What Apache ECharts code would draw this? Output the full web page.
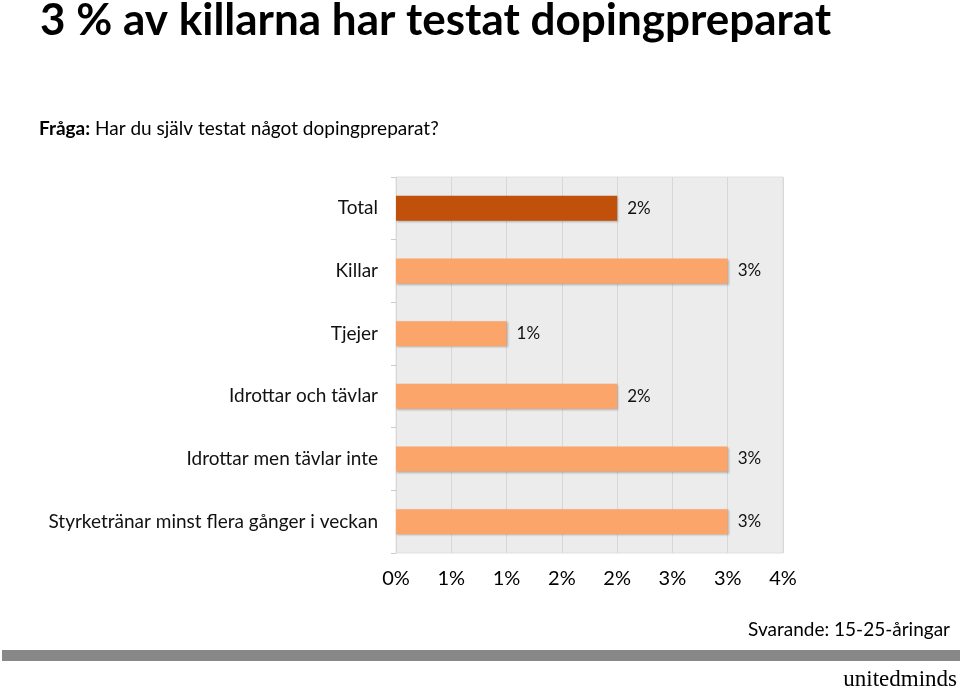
<!DOCTYPE html>
<html><head><meta charset="utf-8">
<script src="https://cdn.jsdelivr.net/npm/echarts@6/dist/echarts.min.js"></script>
<style>html,body{margin:0;padding:0;background:#fff}#c{width:960px;height:691px}</style>
</head><body><div id="c"></div>
<script>
const categories = ['Total','Killar','Tjejer','Idrottar och tävlar','Idrottar men tävlar inte','Styrketränar minst flera gånger i veckan'];
const values = [2.0, 3.0, 1.0, 2.0, 3.0, 3.0];
const barColors = ['#c0500a','#fba56b','#fba56b','#fba56b','#fba56b','#fba56b'];
const axisMin = 0, axisMax = 3.5, axisStep = 0.5;

const chart = echarts.init(document.getElementById('c'));
const FONT = 'Lato';
chart.setOption({
  animation: false,
  backgroundColor: '#fff',
  textStyle: { fontFamily: FONT },
  title: [{
    text: '3 % av killarna har testat dopingpreparat',
    left: 35, top: -6,
    textStyle: { fontFamily: FONT, fontWeight: 'bold', fontSize: 44, color: '#000' }
  }, {
    text: '{b|Fråga:}{n| Har du själv testat något dopingpreparat?}',
    left: 34, top: 114,
    textStyle: { rich: {
      b: { fontFamily: FONT, fontWeight: 'bold', fontSize: 19, color: '#000' },
      n: { fontFamily: FONT, fontWeight: 'normal', fontSize: 19, color: '#000' }
    } }
  }],
  grid: { left: 396, right: 177, top: 177, bottom: 138, show: true, backgroundColor: '#ececec', borderColor: '#e0e0e0', borderWidth: 1 },
  xAxis: {
    type: 'value', min: axisMin, max: axisMax, interval: axisStep,
    axisLine: { show: false }, axisTick: { show: false },
    splitLine: { show: true, lineStyle: { color: '#d8d8d8', width: 1 } },
    axisLabel: { fontFamily: FONT, fontSize: 20, color: '#000', margin: 16,
      formatter: v => Math.round(v) + '%' }
  },
  yAxis: {
    type: 'category', data: categories, inverse: true,
    axisLine: { show: false },
    axisTick: { show: true, length: 5, lineStyle: { color: '#cccccc' } },
    axisLabel: { fontFamily: FONT, fontSize: 19, color: '#111', margin: 18 }
  },
  series: [{
    type: 'bar', barWidth: 25,
    data: values.map((v, i) => ({ value: v, itemStyle: { color: barColors[i] } })),
    itemStyle: { shadowColor: 'rgba(0,0,0,0.25)', shadowBlur: 2, shadowOffsetX: 1, shadowOffsetY: 1 },
    label: { show: true, position: 'right', distance: 10, fontFamily: FONT, fontSize: 17, color: '#111',
      formatter: p => Math.round(p.value) + '%' }
  }],
  graphic: [
    { type: 'text', right: 10, top: 620, style: { text: 'Svarande: 15-25-åringar', font: '19px Lato', fill: '#000' } },
    { type: 'rect', shape: { x: 2, y: 650, width: 958, height: 11 }, style: { fill: '#888888' } },
    { type: 'text', right: 3, top: 668, style: { rich: {
        a: { fontFamily: 'Liberation Serif', fontSize: 23, color: '#222' },
        m: { fontFamily: 'Liberation Serif', fontSize: 23, color: '#999' }
      }, text: '{a|united}{m|minds}' } }
  ]
});
</script></body></html>
